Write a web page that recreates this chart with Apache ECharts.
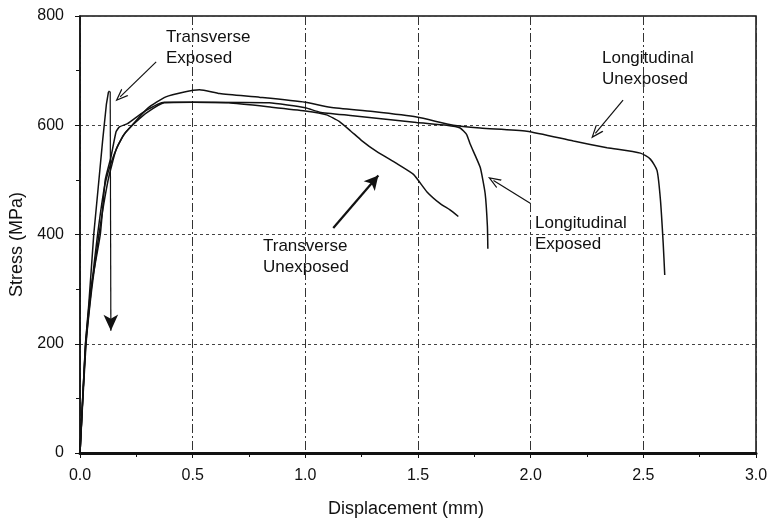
<!DOCTYPE html>
<html>
<head>
<meta charset="utf-8">
<script src="https://cdn.jsdelivr.net/npm/echarts@6/dist/echarts.min.js"></script>
<style>
  html, body { margin: 0; padding: 0; background: #ffffff; }
  #chart { width: 772px; height: 523px; }
</style>
</head>
<body>
<div id="chart"></div>
<script>
// Stress–displacement curves, [displacement (mm), stress (MPa)]
const transverseExposed = [
  [0, 0], [0.024, 200], [0.039, 272], [0.061, 400], [0.081, 487],
  [0.100, 570], [0.117, 638], [0.126, 660], [0.131, 663]
];
const transverseUnexposed = [
  [0, 0], [0.024, 195], [0.048, 300], [0.090, 400], [0.112, 500],
  [0.137, 541], [0.160, 588], [0.175, 597], [0.211, 603], [0.285, 625],
  [0.374, 642], [0.50, 642], [0.66, 641], [0.85, 633], [1.00, 626],
  [1.094, 619], [1.150, 607], [1.200, 590], [1.250, 572], [1.316, 552],
  [1.405, 530], [1.480, 510], [1.540, 478], [1.600, 456], [1.642, 445],
  [1.679, 433]
];
const longitudinalExposed = [
  [0, 0], [0.026, 195], [0.052, 300], [0.084, 400], [0.125, 500],
  [0.160, 555], [0.200, 586], [0.248, 606], [0.300, 624], [0.374, 641],
  [0.50, 642], [0.84, 641], [1.00, 632], [1.064, 624], [1.20, 618],
  [1.494, 605], [1.627, 600], [1.687, 595], [1.716, 583], [1.731, 566],
  [1.776, 523], [1.798, 475], [1.808, 415], [1.810, 374]
];
const longitudinalUnexposed = [
  [0, 0], [0.025, 195], [0.050, 300], [0.078, 400], [0.110, 490],
  [0.150, 545], [0.190, 580], [0.233, 601], [0.300, 631], [0.381, 652],
  [0.463, 661], [0.53, 665], [0.62, 658], [0.80, 651], [1.00, 642],
  [1.11, 633], [1.30, 625], [1.494, 615], [1.657, 600], [1.776, 595],
  [1.983, 589], [2.19, 571], [2.339, 559], [2.487, 549], [2.531, 538],
  [2.561, 517], [2.576, 463], [2.588, 385], [2.595, 326]
];

// Axis ticks
const xTickLabels = ['0.0', '0.5', '1.0', '1.5', '2.0', '2.5', '3.0'];
const yTickLabels = ['0', '200', '400', '600', '800'];
const xStep = 0.5;
const yStep = 200;

const ink = '#111111';
const font = '"Liberation Sans", Arial, sans-serif';

// Open V arrowhead (tip at top), used for the label pointers
const chevron = 'path://M0,10 L5,0 L10,10 L8.7,10 L5,2.6 L1.3,10 Z';

const chart = echarts.init(document.getElementById('chart'), null, { renderer: 'canvas' });

function curve(name, data, smooth) {
  return {
    name: name,
    type: 'line',
    data: data,
    showSymbol: false,
    smooth: smooth,
    silent: true,
    lineStyle: { color: ink, width: 1.5 },
    z: 3
  };
}

const option = {
  animation: false,
  backgroundColor: '#ffffff',
  grid: {
    left: 80, right: 16, top: 16, bottom: 62,
    show: true, borderColor: ink, borderWidth: 1.5
  },
  xAxis: {
    type: 'value',
    min: 0,
    max: xStep * (xTickLabels.length - 1),
    interval: xStep,
    name: 'Displacement (mm)',
    nameLocation: 'middle',
    nameGap: 47,
    nameTextStyle: { fontFamily: font, fontSize: 18, color: ink, padding: [0, 24, 0, 0] },
    axisLine: { show: true, lineStyle: { color: ink, width: 3 } },
    axisTick: { show: true, inside: false, length: 5, lineStyle: { color: ink, width: 1 } },
    minorTick: { show: true, splitNumber: 2, length: 4, lineStyle: { color: ink, width: 1 } },
    axisLabel: {
      margin: 15,
      fontFamily: font, fontSize: 16, color: ink,
      formatter: function (v, i) { return xTickLabels[i]; }
    },
    splitLine: {
      show: true,
      lineStyle: { color: '#333', width: 1, type: [9, 3, 2, 3] }
    }
  },
  yAxis: {
    type: 'value',
    min: 0,
    max: yStep * (yTickLabels.length - 1),
    interval: yStep,
    name: 'Stress (MPa)',
    nameLocation: 'middle',
    nameGap: 45,
    nameTextStyle: { fontFamily: font, fontSize: 18, color: ink, padding: [0, 20, 0, 0] },
    axisLine: { show: true, lineStyle: { color: ink, width: 1.5 } },
    axisTick: { show: true, inside: false, length: 5, lineStyle: { color: ink, width: 1 } },
    minorTick: { show: true, splitNumber: 2, length: 4, lineStyle: { color: ink, width: 1 } },
    axisLabel: {
      margin: 16,
      fontFamily: font, fontSize: 16, color: ink,
      formatter: function (v, i) { return yTickLabels[i]; }
    },
    splitLine: {
      show: true,
      lineStyle: { color: '#444', width: 1, type: [3, 3] }
    }
  },
  series: [
    curve('Transverse Exposed', transverseExposed, false),
    curve('Transverse Unexposed', transverseUnexposed, 0.15),
    curve('Longitudinal Exposed', longitudinalExposed, 0.15),
    curve('Longitudinal Unexposed', longitudinalUnexposed, 0.2),
    {
      // thin pointers from the labels, plus the fracture drop of the exposed transverse specimen
      type: 'line',
      data: [],
      silent: true,
      markLine: {
        silent: true,
        animation: false,
        label: { show: false },
        lineStyle: { color: ink, width: 1.2, type: 'solid' },
        symbol: ['none', chevron],
        symbolSize: [10, 13],
        data: [
          [{ coord: [0.338, 716] }, { coord: [0.178, 652] }],
          [{ coord: [2.41, 646] }, { coord: [2.287, 585] }],
          [{ coord: [1.998, 457] }, { coord: [1.835, 499] }],
          [{ coord: [0.134, 662] }, { coord: [0.137, 224], symbol: 'arrow', symbolSize: [11, 16] }]
        ]
      }
    },
    {
      // heavier pointer for the unexposed transverse curve
      type: 'line',
      data: [],
      silent: true,
      markLine: {
        silent: true,
        animation: false,
        label: { show: false },
        lineStyle: { color: ink, width: 2.2, type: 'solid' },
        symbol: ['none', 'arrow'],
        symbolSize: [11, 14],
        data: [
          [{ coord: [1.124, 412] }, { coord: [1.324, 508] }]
        ]
      }
    }
  ],
  graphic: [
    { type: 'text', left: 166, top: 27, silent: true,
      style: { text: 'Transverse\nExposed', fontFamily: font, fontSize: 17, lineHeight: 21, fill: ink } },
    { type: 'text', left: 602, top: 48, silent: true,
      style: { text: 'Longitudinal\nUnexposed', fontFamily: font, fontSize: 17, lineHeight: 21, fill: ink } },
    { type: 'text', left: 535, top: 213, silent: true,
      style: { text: 'Longitudinal\nExposed', fontFamily: font, fontSize: 17, lineHeight: 21, fill: ink } },
    { type: 'text', left: 263, top: 236, silent: true,
      style: { text: 'Transverse\nUnexposed', fontFamily: font, fontSize: 17, lineHeight: 21, fill: ink } }
  ]
};

chart.setOption(option);
</script>
</body>
</html>
